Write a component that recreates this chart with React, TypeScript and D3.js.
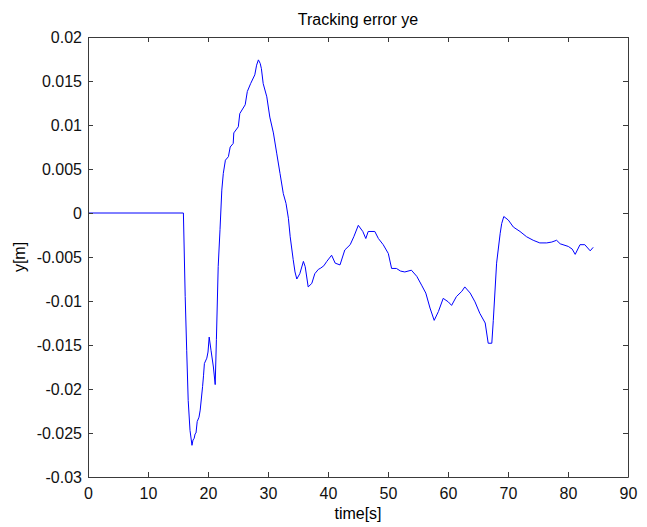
import React, { useEffect, useRef } from 'react';
import * as d3 from 'd3';

// time [s] and tracking error ye [m]
const timeS = [
  0, 15.9, 16.2, 16.45, 16.7, 17.0, 17.33, 17.5, 17.7, 17.85, 18.0, 18.2, 18.5, 18.7, 19.1, 19.25, 19.4,
  19.8, 20.0, 20.2, 20.5, 20.9, 21.2, 21.4, 21.7, 22.0, 22.3, 22.55, 22.9, 23.4, 23.7, 24.2, 24.3,
  25.05, 25.3, 26.2, 26.55, 27.1, 27.8, 28.1, 28.4, 28.7, 28.9, 29.2, 29.8, 30.3, 30.9, 31.45, 32,
  32.55, 33.0, 33.4, 33.7, 34.2, 34.5, 34.8, 35.3, 35.9, 36.2, 36.7, 37.3, 37.8, 38.4, 38.7, 39.3,
  39.8, 40.6, 41.2, 42, 42.8, 43.7, 44.3, 45.05, 45.8, 46.3, 46.7, 47.8, 48.4, 49.2, 50.05, 50.6,
  51.4, 52.1, 52.8, 53.9, 54.8, 55.6, 56.3, 57, 57.7, 58.4, 59.2, 60.05, 60.6, 61.4, 62.3, 62.8,
  63.7, 64.5, 65.3, 66.2, 66.7, 67.3, 67.55, 68.1, 68.7, 68.95, 69.3, 70.05, 70.9, 72, 73.1, 74.2,
  75.3, 76.45, 77.3, 78.1, 78.7, 80.05, 80.7, 81.2, 82, 82.8, 83.7, 84.2,
];
const errorM = [
  0, 0, -0.0095, -0.0156, -0.0213, -0.0247, -0.0264, -0.0258, -0.0256, -0.0251, -0.025, -0.0237, -0.0232, -0.0224, -0.0197, -0.0185, -0.0171,
  -0.0165, -0.0158, -0.0141, -0.0156, -0.0175, -0.0195, -0.0144, -0.0061, -0.0019, 0.0026, 0.0045, 0.006, 0.0064, 0.0075, 0.0079, 0.0091,
  0.0098, 0.0113, 0.0123, 0.0138, 0.0147, 0.0157, 0.0168, 0.0174, 0.017, 0.0164, 0.0147, 0.0132, 0.0109, 0.0091, 0.0068, 0.0045,
  0.0022, 0.0011, -0.0006, -0.0027, -0.0053, -0.0067, -0.0075, -0.0069, -0.0055, -0.0061, -0.0084, -0.008, -0.0069, -0.0064, -0.0063, -0.006,
  -0.0055, -0.0048, -0.0057, -0.0059, -0.0042, -0.0036, -0.0027, -0.0014, -0.0021, -0.0029, -0.0021, -0.0021, -0.0029, -0.0036, -0.0046, -0.0063,
  -0.0063, -0.0066, -0.0067, -0.0065, -0.0072, -0.0082, -0.0091, -0.0108, -0.0122, -0.0112, -0.0097, -0.0101, -0.0105, -0.0095, -0.0089, -0.0084,
  -0.0091, -0.0101, -0.0114, -0.0125, -0.0148, -0.0148, -0.0122, -0.0057, -0.0023, -0.0012, -0.0004, -0.0008, -0.0016, -0.0021, -0.0027, -0.0031,
  -0.0034, -0.0034, -0.0033, -0.0031, -0.0035, -0.0038, -0.0041, -0.0047, -0.0036, -0.0036, -0.0043, -0.0039,
];

const xTicks = [0, 10, 20, 30, 40, 50, 60, 70, 80, 90];
const yTicks = [0.02, 0.015, 0.01, 0.005, 0, -0.005, -0.01, -0.015, -0.02, -0.025, -0.03];

const W = 647;
const H = 527;
const margin = { top: 37, right: 19, bottom: 50, left: 88 };

export default function App() {
  const ref = useRef<SVGSVGElement>(null);

  useEffect(() => {
    const svg = d3.select(ref.current);
    svg.selectAll('*').remove();

    const width = W - margin.left - margin.right;
    const height = H - margin.top - margin.bottom;

    const x = d3.scaleLinear().domain([0, 90]).range([0, width]);
    const y = d3.scaleLinear().domain([-0.03, 0.02]).range([height, 0]);

    const g = svg.append('g').attr('transform', `translate(${margin.left},${margin.top})`);
    const font = 'Liberation Sans, Arial, sans-serif';

    const line = d3.line<number>()
      .x((_, i) => x(timeS[i]))
      .y(d => y(d));

    g.append('path')
      .datum(errorM)
      .attr('d', line)
      .attr('fill', 'none')
      .attr('stroke', '#0000ff')
      .attr('stroke-width', 1);

    // box axes, ticks pointing inward like MATLAB
    const fmt = (d: number) => String(d);
    const bottom = g.append('g').attr('transform', `translate(0,${height})`)
      .call(d3.axisBottom(x).tickValues(xTicks).tickSizeInner(-5).tickSizeOuter(0).tickPadding(11).tickFormat(fmt as any));
    const top = g.append('g')
      .call(d3.axisTop(x).tickValues(xTicks).tickSizeInner(-5).tickSizeOuter(0).tickFormat(() => ''));
    const left = g.append('g')
      .call(d3.axisLeft(y).tickValues(yTicks).tickSizeInner(-5).tickSizeOuter(0).tickPadding(6).tickFormat(fmt as any));
    const right = g.append('g').attr('transform', `translate(${width},0)`)
      .call(d3.axisRight(y).tickValues(yTicks).tickSizeInner(-5).tickSizeOuter(0).tickFormat(() => ''));

    [bottom, top, left, right].forEach(a => {
      a.selectAll('path, line').attr('stroke', '#3a3a3a');
      a.selectAll('text').attr('font-family', font).attr('font-size', 16).attr('fill', '#111');
    });

    svg.append('text')
      .attr('x', margin.left + width / 2)
      .attr('y', 25)
      .attr('text-anchor', 'middle')
      .attr('font-family', font)
      .attr('font-size', 16)
      .text('Tracking error ye');

    svg.append('text')
      .attr('x', margin.left + width / 2)
      .attr('y', 519)
      .attr('text-anchor', 'middle')
      .attr('font-family', font)
      .attr('font-size', 16)
      .text('time[s]');

    svg.append('text')
      .attr('transform', `translate(25,${margin.top + height / 2}) rotate(-90)`)
      .attr('text-anchor', 'middle')
      .attr('font-family', font)
      .attr('font-size', 16)
      .text('y[m]');
  }, []);

  return (
    <svg
      ref={ref}
      width={W}
      height={H}
      style={{ position: 'absolute', left: 0, top: 0, background: '#fff' }}
    />
  );
}
